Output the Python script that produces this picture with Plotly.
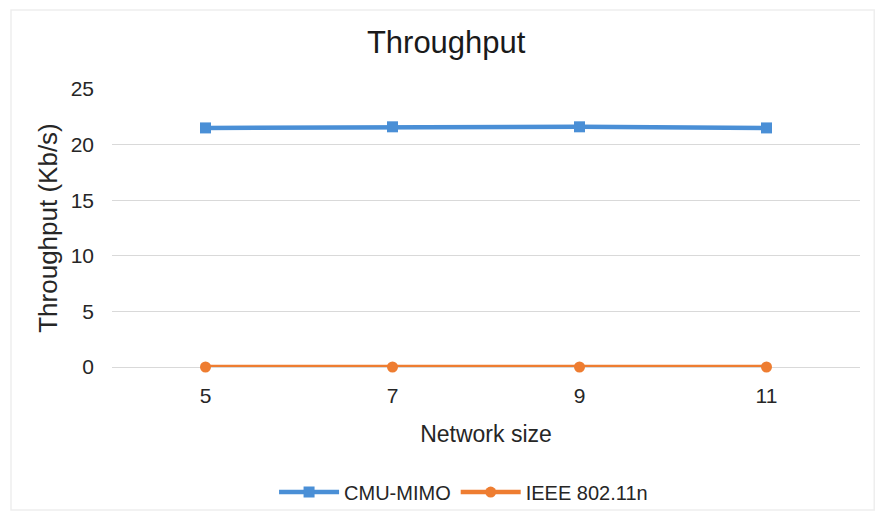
import plotly.graph_objects as go

# Network sizes and measured throughput (Kb/s)
network_size = ["5", "7", "9", "11"]
cmu_mimo = [21.5, 21.6, 21.6, 21.5]
ieee_80211n = [0, 0, 0, 0]
y_ticks = [0, 5, 10, 15, 20, 25]

FONT = "Liberation Sans, Arial, sans-serif"

fig = go.Figure()
fig.add_trace(go.Scatter(
    x=network_size, y=cmu_mimo, name="CMU-MIMO", mode="lines+markers",
    line=dict(color="#4A8FD6", width=4.5),
    marker=dict(symbol="square", size=11, color="#4A8FD6"),
    cliponaxis=False,
))
fig.add_trace(go.Scatter(
    x=network_size, y=ieee_80211n, name="IEEE 802.11n", mode="lines+markers",
    line=dict(color="#EE7D31", width=4.5),
    marker=dict(symbol="circle", size=11, color="#EE7D31"),
    cliponaxis=False,
))

fig.update_layout(
    width=880, height=515,
    margin=dict(l=112, r=20, t=89, b=148, autoexpand=False),
    paper_bgcolor="white", plot_bgcolor="white",
    font=dict(family=FONT, color="#262626"),
    title=dict(text="Throughput", x=0.507, xanchor="center", y=0.918, yanchor="middle",
               font=dict(size=31, color="#1a1a1a", family=FONT)),
    xaxis=dict(
        type="category", range=[-0.5, 3.5], showgrid=False, zeroline=False,
        showline=False, ticks="", ticklabelstandoff=14, automargin=False,
        tickfont=dict(size=21, color="#262626"),
        title=dict(text="Network size", font=dict(size=23, color="#262626"), standoff=19),
    ),
    yaxis=dict(
        range=[0, 25], tickvals=y_ticks, showgrid=True, gridcolor="#d9d9d9",
        gridwidth=1.2, zeroline=True, zerolinecolor="#d9d9d9", zerolinewidth=1.2,
        showline=False, ticks="", ticklabelstandoff=17, automargin=False,
        tickfont=dict(size=21, color="#262626"),
        title=dict(text="Throughput (Kb/s)", font=dict(size=26, color="#262626"), standoff=5),
    ),
    legend=dict(
        orientation="h", x=0.47, xanchor="center", y=-0.45, yanchor="middle",
        font=dict(size=20, color="#262626"), itemwidth=60, traceorder="normal",
        bgcolor="rgba(0,0,0,0)",
    ),
    shapes=[dict(type="rect", xref="paper", yref="paper", x0=-0.135, x1=1.019,
                 y0=-0.514, y1=1.284, line=dict(color="#eeeeee", width=1.5),
                 fillcolor="rgba(0,0,0,0)", layer="below")],
)

fig.write_html("out.html")
